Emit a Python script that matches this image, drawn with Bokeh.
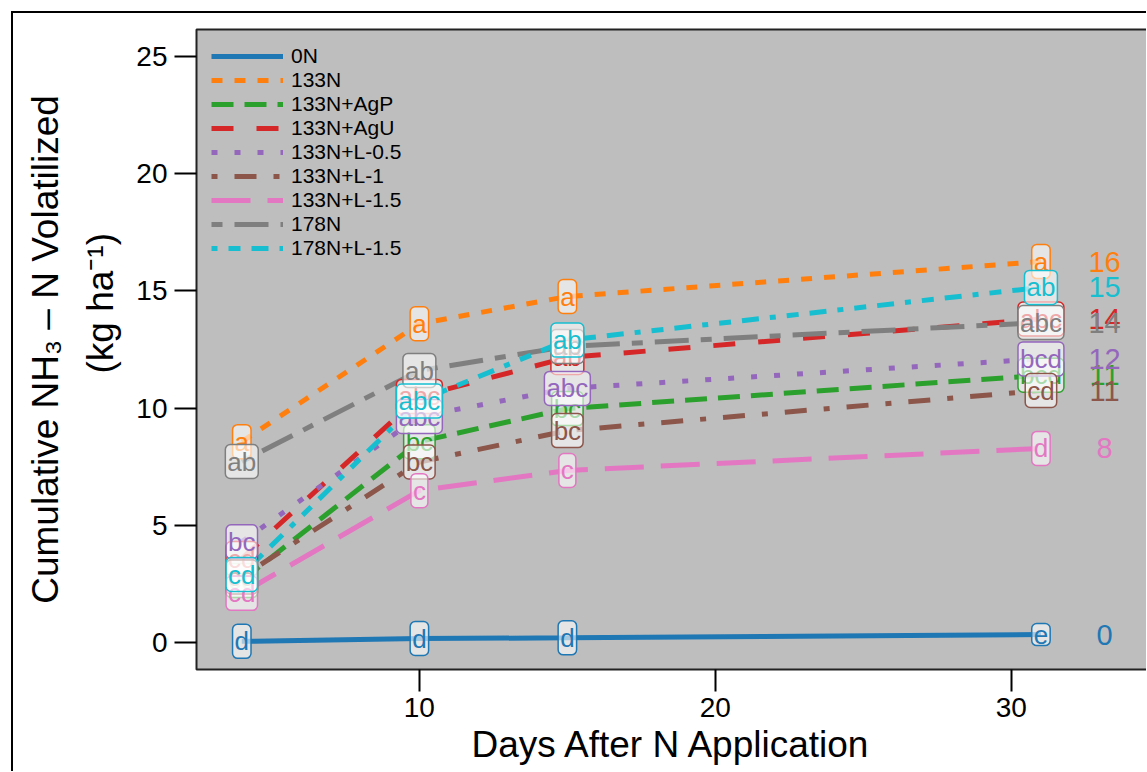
import math
from bokeh.plotting import figure
from bokeh.models import (Legend, LegendItem, FixedTicker, LinearAxis,
                          ColumnDataSource)
from bokeh.core.properties import value
from bokeh.embed import file_html
from bokeh.resources import INLINE

# ---------------- data ----------------
days = [4, 10, 15, 31]
treatments = ["0N", "133N", "133N+AgP", "133N+AgU", "133N+L-0.5",
              "133N+L-1", "133N+L-1.5", "178N", "178N+L-1.5"]
v_0N = [0.05, 0.17, 0.20, 0.34]
v_133N = [8.57, 13.6, 14.76, 16.25]
v_133N_AgP = [2.65, 8.57, 9.98, 11.4]
v_133N_AgU = [3.58, 10.5, 12.16, 13.8]
v_133N_L05 = [4.3, 9.64, 10.84, 12.1]
v_133N_L1 = [2.8, 7.7, 9.04, 10.75]
v_133N_L15 = [2.1, 6.48, 7.34, 8.28]
v_178N = [7.72, 11.6, 12.63, 13.65]
v_178N_L15 = [2.9, 10.3, 12.9, 15.15]

l_0N = ["d", "d", "d", "e"]
l_133N = ["a", "a", "a", "a"]
l_133N_AgP = ["cd", "bc", "bc", "bcd"]
l_133N_AgU = ["cd", "abc", "ab", "abc"]
l_133N_L05 = ["bc", "abc", "abc", "bcd"]
l_133N_L1 = ["cd", "bc", "bc", "cd"]
l_133N_L15 = ["cd", "c", "c", "d"]
l_178N = ["ab", "ab", "ab", "abc"]
l_178N_L15 = ["cd", "abc", "ab", "ab"]

end_day = 33.15
end_labels = ["0", "16", "11", "14", "12", "11", "8", "14", "15"]

x_ticks = [10, 20, 30]
y_ticks = [0, 5, 10, 15, 20, 25]

values = [v_0N, v_133N, v_133N_AgP, v_133N_AgU, v_133N_L05,
          v_133N_L1, v_133N_L15, v_178N, v_178N_L15]
letters = [l_0N, l_133N, l_133N_AgP, l_133N_AgU, l_133N_L05,
           l_133N_L1, l_133N_L15, l_178N, l_178N_L15]

# ---------------- styles ----------------
colors = ["#1f77b4", "#ff7f0e", "#2ca02c", "#d62728", "#9467bd",
          "#8c564b", "#e377c2", "#7f7f7f", "#17becf"]
dashes = ["solid", "11 12", "22 11", "22 23", "6 17",
          "6 17 22 17", "39 17", "11 12 34 12", "6 11 12 11 17 11"]
FONT = "Liberation Sans"

OFF = 12                      # outer border offset
W, H = 1147 - OFF, 772 - OFF  # canvas size
FL, FT, FR, FB = 195 - OFF, 28 - OFF, 1146 - OFF, 668 - OFF

p = figure(width=W, height=H, x_range=(2.47, 34.6), y_range=(-1.15, 26.15),
           min_border_left=FL, min_border_right=W - FR, min_border_top=FT,
           min_border_bottom=H - FB, output_backend="svg", toolbar_location=None)
p.margin = (OFF - 1, 0, 0, OFF - 1)
p.styles = {"border-top": "2px solid black", "border-left": "2px solid black"}
p.background_fill_color = "#bebebe"
p.border_fill_color = "white"
p.outline_line_color = "#222222"
p.outline_line_width = 2
p.xgrid.visible = False
p.ygrid.visible = False

for ax in (p.xaxis[0], p.yaxis[0]):
    ax.axis_line_color = None
    ax.major_tick_in = 0
    ax.major_tick_out = 22
    ax.major_tick_line_width = 2
    ax.major_tick_line_color = "black"
    ax.minor_tick_line_color = None
    ax.major_label_text_font = FONT
    ax.major_label_text_font_size = "28px"
    ax.major_label_text_color = "black"
    ax.axis_label_text_font = FONT
    ax.axis_label_text_font_style = "normal"
    ax.axis_label_text_color = "black"
p.xaxis[0].ticker = FixedTicker(ticks=x_ticks)
p.yaxis[0].ticker = FixedTicker(ticks=y_ticks)
p.xaxis[0].major_label_standoff = 6
p.yaxis[0].major_label_standoff = 7
p.xaxis[0].axis_label = "Days After N Application"
p.xaxis[0].axis_label_text_font_size = "37px"
p.xaxis[0].axis_label_standoff = 4

p.yaxis[0].axis_label = "\u2002" * 5 + "(kg ha\u207b\u00b9)"
p.yaxis[0].axis_label_text_font_size = "37px"
p.yaxis[0].axis_label_standoff = 12

y2 = LinearAxis(ticker=FixedTicker(ticks=[]), axis_line_color=None,
                major_tick_line_color=None, minor_tick_line_color=None,
                major_label_text_font_size="0px",
                axis_label="Cumulative NH\u2083 \u2013 N Volatilized",
                axis_label_text_font=FONT, axis_label_text_font_size="37px",
                axis_label_text_font_style="normal", axis_label_text_color="black",
                axis_label_standoff=12)
p.add_layout(y2, "left")

items = []
for name, vals, col, dash in zip(treatments, values, colors, dashes):
    r = p.line(days, vals, line_color=col, line_width=5, line_dash=dash)
    items.append(LegendItem(label=name, renderers=[r]))

for vals, labs, col in zip(values, letters, colors):
    src = ColumnDataSource(dict(x=days, y=vals, t=labs))
    p.text("x", "y", text="t", source=src, text_color=col,
           text_font=value(FONT), text_font_size="26px",
           text_align="center", text_baseline="middle",
           background_fill_color="white", background_fill_alpha=0.6,
           border_line_color=col, border_line_width=1.5, border_radius=5,
           padding=2)

src_end = ColumnDataSource(dict(x=[end_day] * len(treatments),
                                y=[v[-1] for v in values], t=end_labels, c=colors))
p.text("x", "y", text="t", source=src_end, text_color="c",
       text_font=value(FONT), text_font_size="29px",
       text_align="center", text_baseline="middle")

legend = Legend(items=items, location="top_left", background_fill_alpha=0,
                border_line_color=None, glyph_width=72, glyph_height=18,
                label_height=18, spacing=0, padding=0, margin=15,
                label_standoff=8, label_text_font=FONT,
                label_text_font_size="21px", label_text_color="black")
p.add_layout(legend)

open("out.html", "w").write(file_html(p, INLINE))
